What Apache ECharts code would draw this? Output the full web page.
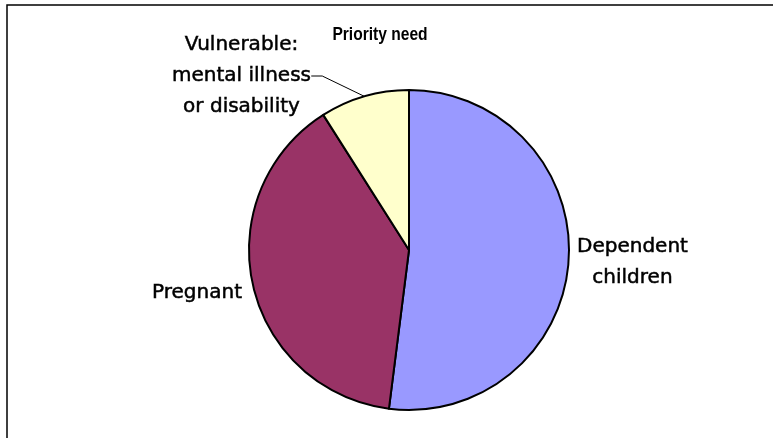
<!DOCTYPE html>
<html>
<head>
<meta charset="utf-8">
<script src="https://cdn.jsdelivr.net/npm/echarts@6/dist/echarts.min.js"></script>
<style>
  html, body { margin: 0; padding: 0; background: #fff; }
  #chart { width: 773px; height: 438px; }
</style>
</head>
<body>
<div id="chart"></div>
<script>
// 数据
var categories = ['Dependent children', 'Pregnant', 'Vulnerable: mental illness or disability'];
var labelTexts = ['Dependent\nchildren', 'Pregnant', 'Vulnerable:\nmental illness\nor disability'];
var values = [52, 39, 9];
var colors = ['#9999FF', '#993366', '#FFFFCC'];

var labelFont = 'DejaVu Sans';

var chart = echarts.init(document.getElementById('chart'));

var pieData = categories.map(function (name, i) {
  var item = {
    name: name,
    value: values[i],
    itemStyle: { color: colors[i] },
    label: {
      formatter: labelTexts[i].split('\n').map(function (s) { return '{c|' + s + '}'; }).join('\n')
    },
    labelLine: { show: false }
  };
  // 只有最小的扇区有引导线
  if (i === 2) {
    item.labelLine = { show: true, length: 20, length2: 11, lineStyle: { color: '#000', width: 1 } };
  }
  return item;
});

chart.setOption({
  animation: false,
  graphic: [{
    type: 'rect',
    shape: { x: 7, y: 5, width: 800, height: 500 },
    style: { fill: 'none', stroke: '#000', lineWidth: 1.5 },
    silent: true
  }, {
    // 标题（窄体加粗）
    type: 'text',
    x: 380,
    y: 35,
    scaleX: 0.82,
    style: {
      text: 'Priority need',
      x: 0,
      y: 0,
      textAlign: 'center',
      textVerticalAlign: 'middle',
      font: 'bold 19px "Liberation Sans"',
      fill: '#000'
    },
    silent: true
  }],
  series: [{
    type: 'pie',
    center: [409, 250],
    radius: 160,
    startAngle: 90,
    clockwise: true,
    avoidLabelOverlap: false,
    itemStyle: { borderColor: '#000', borderWidth: 2 },
    label: {
      show: true,
      position: 'outside',
      color: '#000',
      fontFamily: labelFont,
      fontSize: 20,
      lineHeight: 31,
      rich: {
        c: {
          fontFamily: labelFont, fontSize: 20, lineHeight: 31, color: '#000', align: 'center',
          textBorderColor: '#000', textBorderWidth: 0.5
        }
      }
    },
    labelLine: { show: false, length: 0, length2: 0 },
    labelLayout: function (params) {
      if (params.dataIndex === 2) {
        return { x: 311, y: 76, align: 'right', verticalAlign: 'middle' };
      }
      if (params.dataIndex === 1) {
        return { x: 242, y: 293, align: 'right', verticalAlign: 'middle' };
      }
      return { x: 577, y: 262, align: 'left', verticalAlign: 'middle' };
    },
    emphasis: { disabled: true },
    data: pieData
  }]
});
</script>
</body>
</html>
